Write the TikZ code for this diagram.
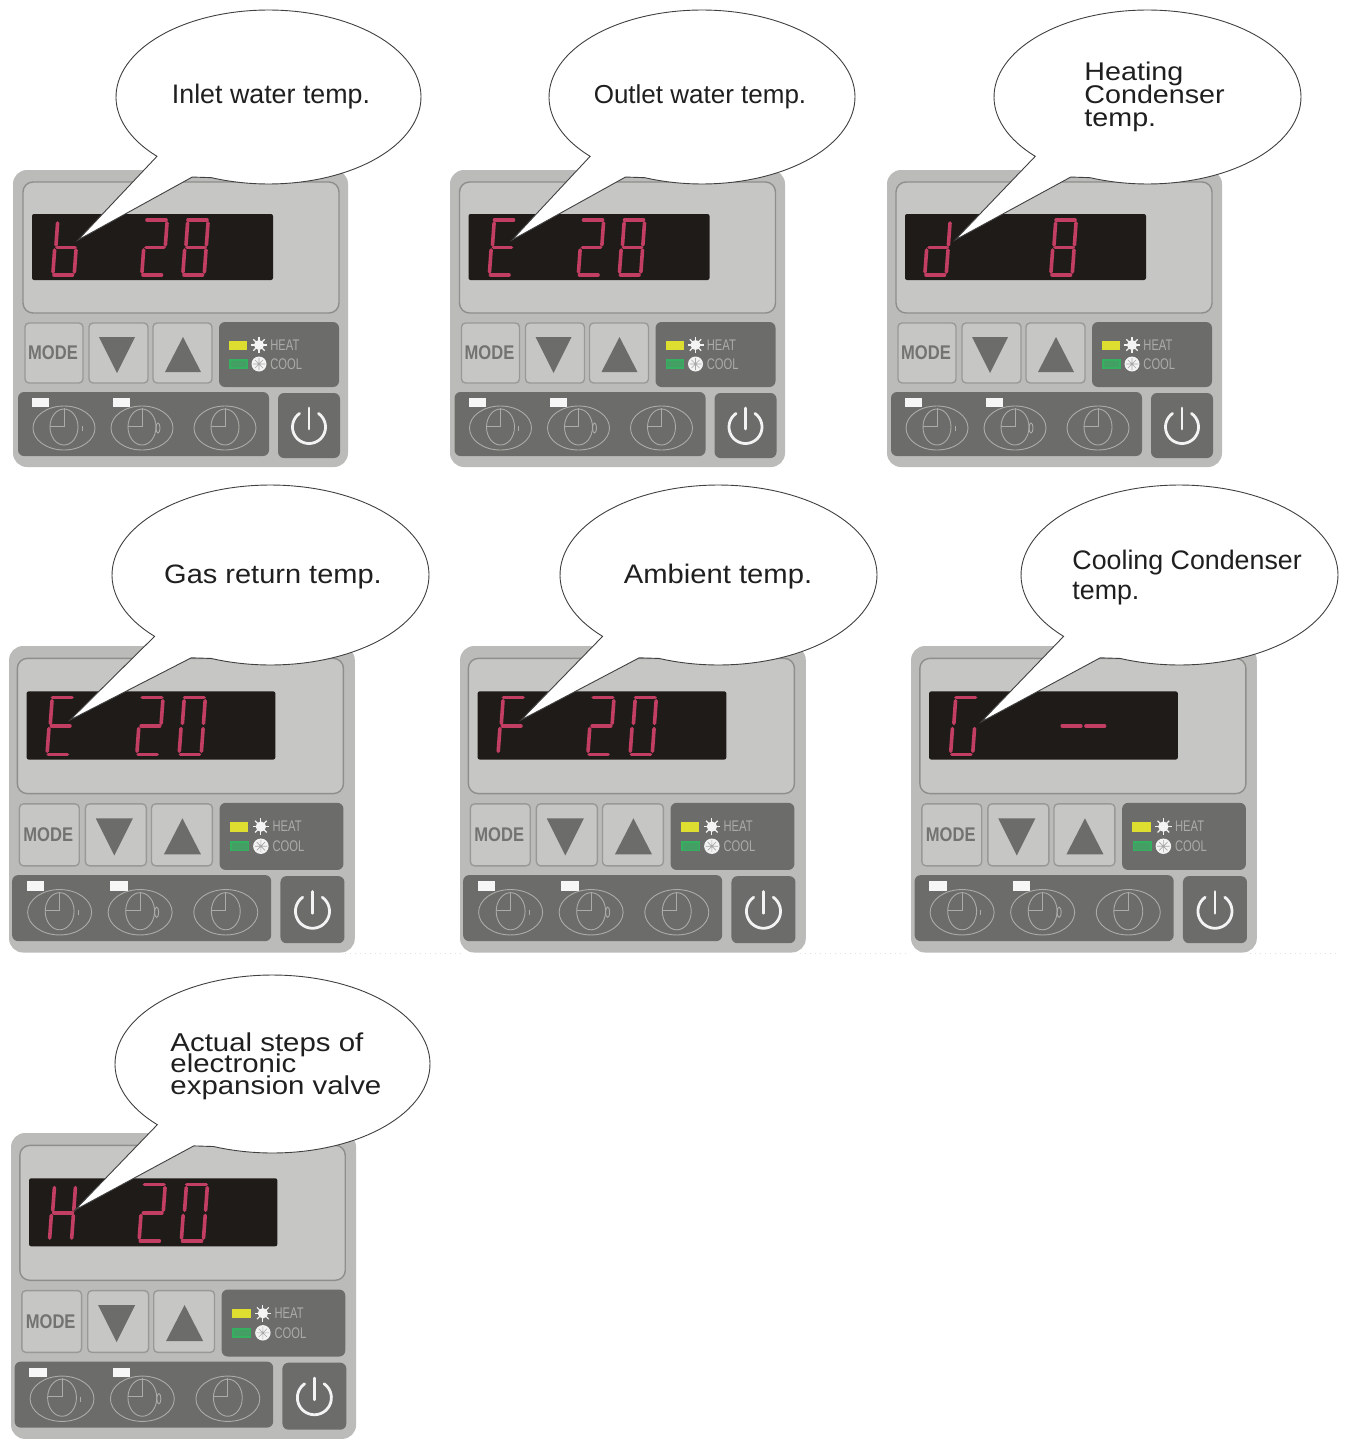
\documentclass[tikz,border=0pt]{standalone}
\usepackage{fontspec}
\setmainfont{Liberation Sans}
\definecolor{shell}{HTML}{BBBBB9}
\definecolor{face}{HTML}{C6C6C4}
\definecolor{edge}{HTML}{8E8E8C}
\definecolor{dark}{HTML}{6C6C6A}
\definecolor{screen}{HTML}{1F1B18}
\definecolor{led}{HTML}{C23E62}
\definecolor{iconline}{HTML}{ABABA8}
\definecolor{ledy}{HTML}{DEDE30}
\definecolor{ledg}{HTML}{35B060}
\newcommand\bfont[2]{\fontsize{#1}{#2}\selectfont\lineskiplimit=-30pt\relax}
\tikzset{
  shellbox/.style={fill=shell,rounded corners=7pt},
  facebox/.style={fill=face,draw=edge,line width=0.7pt,rounded corners=5pt},
  keybox/.style={fill=face,draw=edge!90,line width=0.7pt,rounded corners=2pt},
  darkbox/.style={fill=dark,rounded corners=3pt},
  ledseg/.style={draw=led,line width=1.8pt,line cap=round},
  clockline/.style={draw=iconline,line width=0.45pt},
  bubbleline/.style={fill=white,draw=black!75,line width=0.45pt,line join=miter},
  bubbletext/.style={text=black!88,align=left,inner sep=0pt},
  hctext/.style={font=\fontsize{7}{8}\selectfont,text=iconline,inner sep=0pt,anchor=west},
  modetext/.style={font=\bfseries\fontsize{9}{11}\selectfont,text=dark!95,inner sep=0pt}
}
% seven-segment pieces
\newcommand\sega{\draw[ledseg] (5,0)--(24,0);}
\newcommand\segb{\draw[ledseg] (25,3)--(23.4,25);}
\newcommand\segc{\draw[ledseg] (23,30)--(21.4,52);}
\newcommand\segd{\draw[ledseg] (19.5,55)--(1,55);}
\newcommand\sege{\draw[ledseg] (1.6,30)--(0,52);}
\newcommand\segf{\draw[ledseg] (4.6,3)--(3,25);}
\newcommand\segg{\draw[ledseg] (4,27.5)--(22,27.5);}
\newcommand\digit[2]{\begin{scope}[shift={(#1,50)}]\foreach \s in {#2}{\csname seg\s\endcsname}\end{scope}}
\newcommand\clockicon[3]{%
  \draw[clockline] (#1,#2) ellipse [x radius=31,y radius=22];
  \draw[clockline] (#1,#2-1) ellipse [x radius=14,y radius=18];
  \draw[clockline] (#1,#2-20)--(#1,#2-2)--(#1-14,#2-2);
  #3}
\newcommand\panel[6]{%
 \begin{scope}[shift={(#2,#3)},xscale=#4,yscale=#4]
  \fill[shellbox] (#6,0) rectangle (335+#6,297);
  \path[facebox] (10,12) rectangle (326,143);
  \fill[screen,rounded corners=1pt] (19,44) rectangle (260,110);
  #5
  \path[keybox] (12,153) rectangle (70,213);
  \path[keybox] (76,153) rectangle (135,213);
  \path[keybox] (140,153) rectangle (199,213);
  \node[modetext] (mode#1) at (40,183) {\scalebox{0.92}[1.1]{MODE}};
  \fill[dark] (86,167)--(122,167)--(104,203)--cycle;
  \fill[dark] (152,202)--(188,202)--(170,167)--cycle;
  \fill[darkbox] (206,152) rectangle (326,217);
  \fill[ledy] (216,171) rectangle (234,180);
  \path[fill=ledg!75!dark,draw=ledg,line width=0.8pt] (217,190) rectangle (234,198);
  \fill[white!92!dark] (246,175) circle [radius=5];
  \foreach \a in {0,45,...,315}{\draw[white!92!dark,line width=0.6pt] (246,175)--++(\a:8);}
  \fill[white!92!dark] (246,194) circle [radius=7.5];
  \draw[dark!60,line width=0.3pt] (240,194)--(252,194) (246,188)--(246,200) (242,190)--(250,198) (250,190)--(242,198);
  \node[hctext] (heat#1) at (257,175) {\scalebox{0.8}[1.1]{HEAT}};
  \node[hctext] (cool#1) at (257,194) {\scalebox{0.8}[1.1]{COOL}};
  \fill[darkbox] (5,222) rectangle (256,286);
  \fill[darkbox] (265,223) rectangle (327,288);
  \fill[white!94!dark] (19,228) rectangle (36,237);
  \fill[white!94!dark] (100,228) rectangle (117,237);
  \clockicon{51}{258}{\draw[clockline] (69,256)--(69,261);}
  \clockicon{129}{258}{\draw[clockline] (145,258) ellipse [x radius=2,y radius=5];}
  \clockicon{212}{258}{}
  \draw[white!92!dark,line width=1.4pt,line cap=round] (296,238)--(296,259);
  \draw[white!92!dark,line width=1.4pt,line cap=round] plot[domain=-55:235,samples=40] ({296+16.5*cos(\x)},{257+16.5*sin(\x)});
 \end{scope}}
% id, centre x, centre y, radii, tip
\newcommand\bubble[7]{%
  \coordinate (tip#1) at (#6,#7);
  \coordinate (base#1) at ({#2-0.5*#4},{#3+0.92*#5});
  \draw[bubbleline] plot[domain=137:472,samples=120] ({#2+#4*cos(\x)},{#3+#5*sin(\x)}) -- (base#1) -- (tip#1) -- cycle;}
\begin{document}
\begin{tikzpicture}[x=0.5pt,y=-0.5pt]
\useasboundingbox[fill=white] (0,0) rectangle (1350,1440);
% faint dotted trace
\draw[black!12,line width=0.5pt,dotted] (345,953)--(465,953) (800,953)--(910,953) (1250,953)--(1340,953);
\panel{a}{13}{170}{1}{\digit{40}{c,d,e,f,g}\digit{129}{a,b,g,e,d}\digit{170}{a,b,c,d,e,f,g}}{0}
\panel{b}{449.5}{170}{1}{\digit{40}{a,d,e,f,g}\digit{129}{a,b,g,e,d}\digit{170}{a,b,c,d,e,f,g}}{0.5}
\panel{c}{886}{170}{1}{\digit{39}{b,c,d,e,g}\digit{165}{a,b,c,d,e,f,g}}{1}
\panel{d}{7}{646}{1.032}{\digit{39}{a,d,e,f,g}\digit{126}{a,b,g,e,d}\digit{167}{a,b,c,d,e,f}}{2}
\panel{e}{458}{646}{1.032}{\digit{39}{a,e,f,g}\digit{126}{a,b,g,e,d}\digit{167}{a,b,c,d,e,f}}{2}
\panel{f}{909.5}{646}{1.032}{\digit{40}{a,c,d,e,f}\digit{144}{g}\digit{167}{g}}{1.5}
\panel{g}{9.5}{1133}{1.03}{\digit{39}{b,c,e,f,g}\digit{126}{a,b,g,e,d}\digit{167}{a,b,c,d,e,f}}{1.5}
\bubble{a}{268.5}{97}{152.5}{87}{78}{240}
\bubble{b}{702}{97}{153}{87}{512}{240}
\bubble{c}{1147.5}{97}{153.5}{87}{955}{240}
\bubble{d}{270.5}{575}{158.5}{90}{70}{720}
\bubble{e}{718.5}{575}{158.5}{90}{521}{720}
\bubble{f}{1179.5}{575}{158.5}{90}{981}{722}
\bubble{g}{272.5}{1064}{157.5}{89}{75}{1210}
\node[bubbletext,font=\bfont{13.4}{11.6}] (la) at (271,97) {Inlet water temp.};
\node[bubbletext,font=\bfont{13}{11.6}] (lb) at (700,97) {Outlet water temp.};
\node[bubbletext,anchor=west,xscale=1.12,transform shape,font=\bfont{12.8}{11.5}] (lc) at (1084,97) {Heating\\Condenser\\temp.};
\node[bubbletext,xscale=1.09,transform shape,font=\bfont{13.3}{11.6}] (ld) at (273,577) {Gas return temp.};
\node[bubbletext,xscale=1.09,transform shape,font=\bfont{13.4}{11.6}] (le) at (718,577) {Ambient temp.};
\node[bubbletext,anchor=west,font=\bfont{13.4}{15}] (lf) at (1072,578) {Cooling Condenser\\temp.};
\node[bubbletext,anchor=west,xscale=1.14,transform shape,font=\bfont{12.9}{10.8}] (lg) at (170,1066) {Actual steps of\\electronic\\expansion valve};
\end{tikzpicture}
\end{document}
